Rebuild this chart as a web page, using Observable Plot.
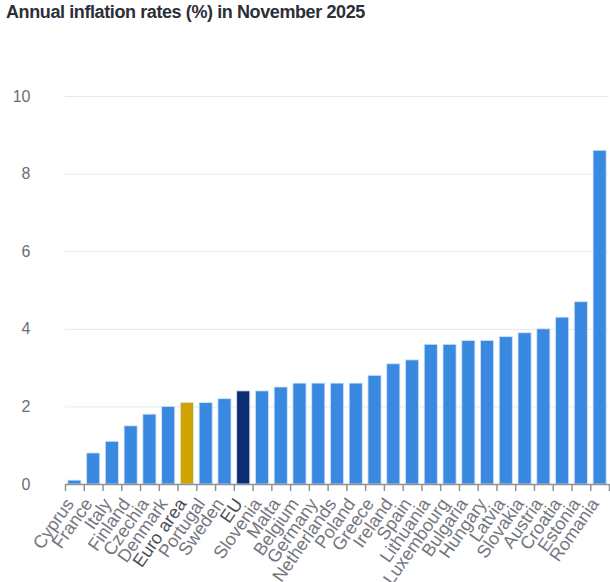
<!DOCTYPE html>
<html>
<head>
<meta charset="utf-8">
<script src="https://cdn.jsdelivr.net/npm/d3@7"></script>
<script src="https://cdn.jsdelivr.net/npm/@observablehq/plot@0.6"></script>
<style>
  body { margin: 0; background: #fff; font-family: "Liberation Sans", Arial, sans-serif; }
  #title { font-size: 18px; font-weight: bold; color: #2b2f38; height: 30px; line-height: 24px; padding-left: 6px; letter-spacing: -0.4px; white-space: nowrap; }
</style>
</head>
<body>
<div id="title">Annual inflation rates (%) in November 2025</div>
<div id="chart"></div>
<script>
const countries = ["Cyprus","France","Italy","Finland","Czechia","Denmark","Euro area","Portugal","Sweden","EU","Slovenia","Malta","Belgium","Germany","Netherlands","Poland","Greece","Ireland","Spain","Lithuania","Luxembourg","Bulgaria","Hungary","Latvia","Slovakia","Austria","Croatia","Estonia","Romania"];
const values = [0.1,0.8,1.1,1.5,1.8,2.0,2.1,2.1,2.2,2.4,2.4,2.5,2.6,2.6,2.6,2.6,2.8,3.1,3.2,3.6,3.6,3.7,3.7,3.8,3.9,4.0,4.3,4.7,8.6];
const yTicks = [0,2,4,6,8,10];
const highlight = {"Euro area": "#d1a300", "EU": "#0b2d73"};
const baseColor = "#3a89e1";

const data = countries.map((c, i) => ({country: c, value: values[i]}));

const W = 610, H = 552, ML = 65, MR = 1, MT = 66, MB = 98;
const step = (W - ML - MR) / countries.length;

const chart = Plot.plot({
  width: W,
  height: H,
  marginLeft: ML,
  marginRight: MR,
  marginTop: MT,
  marginBottom: MB,
  style: {fontFamily: "'Liberation Sans', Arial, sans-serif", background: "#fff"},
  x: {domain: countries, paddingInner: 0.3, paddingOuter: 0.15, round: false, axis: null},
  y: {domain: [0, 10], ticks: yTicks, label: null},
  marks: [
    Plot.gridY(yTicks, {stroke: "#e3e8f0", strokeOpacity: 1, strokeWidth: 1}),
    Plot.axisY(yTicks, {tickSize: 0, tickPadding: 35, fontSize: 16, fill: "#6b6e76", label: null}),
    Plot.barY(data, {x: "country", y: "value", fill: d => highlight[d.country] || baseColor, stroke: "#d8e6f7", strokeWidth: 1, strokeOpacity: 0.8}),
    Plot.ruleY([0], {stroke: "#8d9199", strokeWidth: 1.5}),
    Plot.ruleX(countries, {x: d => d, y1: 0, y2: 0, dx: -step / 2, stroke: "#8d9199", strokeWidth: 1.5, insetBottom: -7}),
    Plot.ruleX([countries[countries.length - 1]], {x: d => d, y1: 0, y2: 0, dx: step / 2, stroke: "#8d9199", strokeWidth: 1.5, insetBottom: -7}),
    Plot.text(countries, {
      x: d => d, y: 0, text: d => d,
      rotate: -55, textAnchor: "end", dy: 16, dx: -5,
      fontSize: 18,
      fill: d => highlight[d] ? "#4a4d55" : "#73767e",
      fontWeight: d => highlight[d] ? "bold" : "normal"
    })
  ]
});
document.getElementById("chart").appendChild(chart);
</script>
</body>
</html>
